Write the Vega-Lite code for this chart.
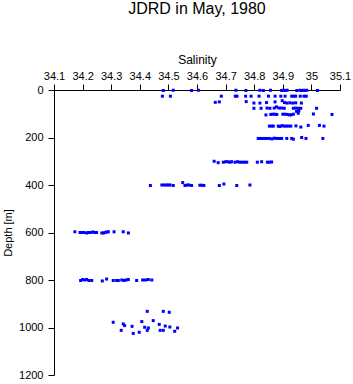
{
  "$schema": "https://vega.github.io/schema/vega-lite/v6.json",
  "autosize": "none",
  "width": 286,
  "height": 285,
  "padding": {"left": 54, "top": 90, "right": 13, "bottom": 9},
  "background": "white",
  "title": {"text": "JDRD in May, 1980", "font": "Liberation Sans", "fontSize": 16, "fontWeight": "normal", "color": "black", "offset": 36, "anchor": "middle"},
  "config": {"view": {"stroke": null}},
  "data": {"values": [
    {"s": 34.482, "d": 2}, {"s": 34.517, "d": 1}, {"s": 34.581, "d": 2}, {"s": 34.605, "d": 1}, {"s": 34.736, "d": 1}, {"s": 34.771, "d": 2},
    {"s": 34.82, "d": 1}, {"s": 34.832, "d": 2}, {"s": 34.857, "d": 1}, {"s": 34.896, "d": 2}, {"s": 34.902, "d": 1}, {"s": 34.908, "d": 2},
    {"s": 34.915, "d": 1}, {"s": 34.949, "d": 2}, {"s": 34.96, "d": 1}, {"s": 34.966, "d": 2}, {"s": 34.972, "d": 1}, {"s": 34.978, "d": 2},
    {"s": 34.984, "d": 1}, {"s": 35.021, "d": 2},
    {"s": 34.479, "d": 26}, {"s": 34.507, "d": 26}, {"s": 34.685, "d": 26}, {"s": 34.734, "d": 26}, {"s": 34.74, "d": 26}, {"s": 34.77, "d": 26},
    {"s": 34.789, "d": 26}, {"s": 34.817, "d": 26}, {"s": 34.85, "d": 26}, {"s": 34.873, "d": 26}, {"s": 34.893, "d": 26}, {"s": 34.908, "d": 26},
    {"s": 34.931, "d": 26}, {"s": 34.938, "d": 26}, {"s": 34.945, "d": 26}, {"s": 34.961, "d": 26}, {"s": 34.974, "d": 26}, {"s": 34.982, "d": 26},
    {"s": 34.664, "d": 52}, {"s": 34.678, "d": 50}, {"s": 34.772, "d": 49}, {"s": 34.799, "d": 55}, {"s": 34.82, "d": 55}, {"s": 34.843, "d": 53},
    {"s": 34.873, "d": 50}, {"s": 34.898, "d": 45}, {"s": 34.906, "d": 53}, {"s": 34.915, "d": 55}, {"s": 34.925, "d": 54}, {"s": 34.935, "d": 55},
    {"s": 34.945, "d": 54}, {"s": 34.965, "d": 55},
    {"s": 34.799, "d": 77}, {"s": 34.824, "d": 77}, {"s": 34.845, "d": 76}, {"s": 34.855, "d": 77}, {"s": 34.87, "d": 76}, {"s": 34.878, "d": 71},
    {"s": 34.886, "d": 76}, {"s": 34.895, "d": 76}, {"s": 34.905, "d": 77}, {"s": 34.937, "d": 77}, {"s": 34.945, "d": 76}, {"s": 34.955, "d": 77},
    {"s": 34.963, "d": 77}, {"s": 35.018, "d": 77}, {"s": 34.948, "d": 90}, {"s": 34.956, "d": 87},
    {"s": 34.841, "d": 105}, {"s": 34.858, "d": 103}, {"s": 34.865, "d": 102}, {"s": 34.872, "d": 102}, {"s": 34.879, "d": 103}, {"s": 34.9, "d": 102},
    {"s": 34.908, "d": 102}, {"s": 34.916, "d": 103}, {"s": 34.924, "d": 105}, {"s": 34.93, "d": 104}, {"s": 34.937, "d": 102}, {"s": 34.954, "d": 98},
    {"s": 35.007, "d": 101}, {"s": 35.072, "d": 103},
    {"s": 34.853, "d": 152}, {"s": 34.86, "d": 152}, {"s": 34.867, "d": 152}, {"s": 34.884, "d": 152}, {"s": 34.89, "d": 154}, {"s": 34.897, "d": 150},
    {"s": 34.904, "d": 152}, {"s": 34.912, "d": 152}, {"s": 34.92, "d": 152}, {"s": 34.928, "d": 152}, {"s": 34.946, "d": 151}, {"s": 34.963, "d": 156},
    {"s": 34.989, "d": 149}, {"s": 35.028, "d": 149}, {"s": 35.044, "d": 152},
    {"s": 34.814, "d": 204}, {"s": 34.822, "d": 204}, {"s": 34.83, "d": 204}, {"s": 34.838, "d": 204}, {"s": 34.844, "d": 204}, {"s": 34.853, "d": 204},
    {"s": 34.862, "d": 206}, {"s": 34.87, "d": 203}, {"s": 34.878, "d": 204}, {"s": 34.888, "d": 204}, {"s": 34.896, "d": 204}, {"s": 34.914, "d": 204},
    {"s": 34.931, "d": 204}, {"s": 34.937, "d": 207}, {"s": 34.966, "d": 200}, {"s": 34.981, "d": 204}, {"s": 35.04, "d": 204},
    {"s": 34.66, "d": 300}, {"s": 34.674, "d": 306}, {"s": 34.692, "d": 304}, {"s": 34.7, "d": 302}, {"s": 34.708, "d": 302}, {"s": 34.715, "d": 304},
    {"s": 34.721, "d": 302}, {"s": 34.733, "d": 304}, {"s": 34.742, "d": 302}, {"s": 34.75, "d": 304}, {"s": 34.758, "d": 304}, {"s": 34.766, "d": 304},
    {"s": 34.774, "d": 304}, {"s": 34.811, "d": 304}, {"s": 34.826, "d": 302}, {"s": 34.846, "d": 304}, {"s": 34.853, "d": 304}, {"s": 34.861, "d": 303},
    {"s": 34.437, "d": 402}, {"s": 34.477, "d": 400}, {"s": 34.485, "d": 400}, {"s": 34.493, "d": 400}, {"s": 34.5, "d": 400}, {"s": 34.506, "d": 400},
    {"s": 34.517, "d": 402}, {"s": 34.55, "d": 390}, {"s": 34.558, "d": 402}, {"s": 34.566, "d": 400}, {"s": 34.572, "d": 400}, {"s": 34.581, "d": 402},
    {"s": 34.61, "d": 401}, {"s": 34.617, "d": 401}, {"s": 34.624, "d": 402}, {"s": 34.678, "d": 402}, {"s": 34.694, "d": 396}, {"s": 34.739, "d": 402},
    {"s": 34.785, "d": 400},
    {"s": 34.173, "d": 597}, {"s": 34.191, "d": 600}, {"s": 34.198, "d": 600}, {"s": 34.205, "d": 600}, {"s": 34.214, "d": 602}, {"s": 34.22, "d": 600},
    {"s": 34.228, "d": 600}, {"s": 34.236, "d": 598}, {"s": 34.243, "d": 600}, {"s": 34.249, "d": 600}, {"s": 34.267, "d": 602}, {"s": 34.273, "d": 602},
    {"s": 34.279, "d": 600}, {"s": 34.284, "d": 598}, {"s": 34.29, "d": 597}, {"s": 34.31, "d": 597}, {"s": 34.342, "d": 597}, {"s": 34.36, "d": 602},
    {"s": 34.193, "d": 802}, {"s": 34.2, "d": 798}, {"s": 34.207, "d": 800}, {"s": 34.214, "d": 798}, {"s": 34.222, "d": 802}, {"s": 34.232, "d": 802},
    {"s": 34.269, "d": 804}, {"s": 34.284, "d": 796}, {"s": 34.307, "d": 802}, {"s": 34.319, "d": 802}, {"s": 34.325, "d": 802}, {"s": 34.337, "d": 800},
    {"s": 34.345, "d": 802}, {"s": 34.352, "d": 800}, {"s": 34.36, "d": 798}, {"s": 34.389, "d": 802}, {"s": 34.41, "d": 800}, {"s": 34.42, "d": 800},
    {"s": 34.43, "d": 798}, {"s": 34.442, "d": 800},
    {"s": 34.307, "d": 978}, {"s": 34.335, "d": 1012}, {"s": 34.342, "d": 985}, {"s": 34.347, "d": 992}, {"s": 34.373, "d": 995}, {"s": 34.377, "d": 1025},
    {"s": 34.398, "d": 1020}, {"s": 34.407, "d": 975}, {"s": 34.417, "d": 999}, {"s": 34.426, "d": 1012}, {"s": 34.43, "d": 1002}, {"s": 34.426, "d": 932},
    {"s": 34.447, "d": 971}, {"s": 34.468, "d": 987}, {"s": 34.471, "d": 1012}, {"s": 34.482, "d": 1012}, {"s": 34.482, "d": 932}, {"s": 34.489, "d": 994},
    {"s": 34.503, "d": 936}, {"s": 34.505, "d": 998}, {"s": 34.522, "d": 1016}, {"s": 34.532, "d": 1002}
  ]},
  "mark": {"type": "point", "shape": "square", "filled": true, "size": 9, "color": "#0000ff", "opacity": 1, "strokeWidth": 0},
  "encoding": {
    "x": {"field": "s", "type": "quantitative", "title": "Salinity",
      "scale": {"domain": [34.1, 35.1], "nice": false, "zero": false},
      "axis": {"orient": "top", "values": [34.1, 34.2, 34.3, 34.4, 34.5, 34.6, 34.7, 34.8, 34.9, 35, 35.1], "format": "~g",
        "grid": false, "domainColor": "black", "tickColor": "black", "tickSize": 6, "labelPadding": 3,
        "labelFont": "Liberation Sans", "labelFontSize": 11, "labelColor": "black", "labelFlush": false, "labelOverlap": false,
        "titleFont": "Liberation Sans", "titleFontSize": 12, "titleFontWeight": "normal", "titleColor": "black", "titlePadding": 4}},
    "y": {"field": "d", "type": "quantitative", "title": "Depth [m]",
      "scale": {"domain": [0, 1200], "nice": false, "reverse": true},
      "axis": {"values": [0, 200, 400, 600, 800, 1000, 1200], "format": "d", "grid": false, "domainColor": "black", "tickColor": "black", "tickSize": 6,
        "labelPadding": 5, "labelFont": "Liberation Sans", "labelFontSize": 11, "labelColor": "black", "labelFlush": false, "labelOverlap": false,
        "titleFont": "Liberation Sans", "titleFontSize": 11, "titleFontWeight": "normal", "titleColor": "black", "titlePadding": 5}}
  }
}
